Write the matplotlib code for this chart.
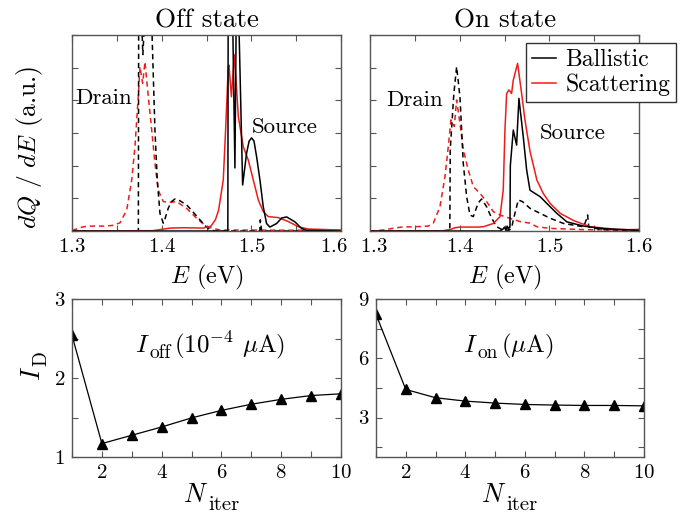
import matplotlib
matplotlib.use("Agg")
import matplotlib.pyplot as plt
from matplotlib.ticker import MultipleLocator
from matplotlib.transforms import ScaledTranslation

plt.rcParams['font.family'] = ['cmr10', 'DejaVu Serif']
plt.rcParams['mathtext.fontset'] = 'cm'
plt.rcParams['axes.formatter.use_mathtext'] = True
plt.rcParams['axes.unicode_minus'] = False

# ---------------- data: top panels (dQ/dE, a.u.) ----------------
# Off state
off_drain_ball_E = [1.300, 1.3740, 1.3745, 1.3790, 1.3860, 1.3925, 1.3951, 1.3981, 1.4018, 1.4040,
                    1.4074, 1.4110, 1.4148, 1.4200, 1.4279, 1.4350, 1.4427, 1.4490, 1.4538, 1.4600,
                    1.5095, 1.5100, 1.5115, 1.600]
off_drain_ball_v = [0.0, 0.0, 9.0, 5.4, 9.0, 3.09, 1.56, 0.54, 0.24, 0.40,
                    0.70, 0.90, 0.98, 0.93, 0.80, 0.58, 0.34, 0.15, 0.04, 0.0,
                    0.0, 0.34, 0.0, 0.0]

off_drain_scat_E = [1.300, 1.305, 1.3126, 1.320, 1.335, 1.345, 1.3535, 1.361, 1.3666, 1.3702,
                    1.3739, 1.3758, 1.3788, 1.3814, 1.3851, 1.3889, 1.3925, 1.3962, 1.4018, 1.4093,
                    1.4167, 1.4279, 1.4390, 1.4502, 1.4650, 1.600]
off_drain_scat_v = [0.02, 0.06, 0.13, 0.15, 0.15, 0.17, 0.25, 0.64, 1.56, 2.58,
                    4.11, 5.03, 4.52, 5.18, 4.11, 3.09, 2.07, 1.25, 0.90, 0.88,
                    0.90, 0.69, 0.39, 0.13, 0.03, 0.02]

off_src_ball_E = [1.300, 1.4738, 1.4743, 1.4760, 1.4778, 1.4817, 1.4839, 1.4903, 1.4947, 1.4975,
                  1.5003, 1.5030, 1.5059, 1.5096, 1.5133, 1.5170, 1.5207, 1.5282, 1.5340, 1.5394,
                  1.5486, 1.5560, 1.5617, 1.600]
off_src_ball_v = [0.0, 0.0, 9.0, 7.0, 9.0, 1.93, 9.0, 1.41, 2.38, 2.75,
                  2.85, 2.75, 2.27, 1.56, 0.74, 0.23, 0.12, 0.23, 0.40, 0.43,
                  0.28, 0.08, 0.02, 0.0]

off_src_scat_E = [1.300, 1.390, 1.400, 1.410, 1.424, 1.4464, 1.455, 1.460, 1.4635, 1.4687,
                  1.4713, 1.4743, 1.4750, 1.4778, 1.4810, 1.4830, 1.4855, 1.4910, 1.4966, 1.5022,
                  1.5078, 1.5134, 1.5190, 1.5301, 1.5412, 1.5524, 1.5635, 1.600]
off_src_scat_v = [0.0, 0.01, 0.05, 0.09, 0.10, 0.09, 0.15, 0.35, 0.64, 1.56,
                  3.09, 5.03, 5.08, 4.11, 5.40, 4.60, 3.50, 2.58, 2.17, 1.56,
                  0.95, 0.59, 0.44, 0.41, 0.29, 0.13, 0.06, 0.03]

# On state
on_drain_ball_E = [1.300, 1.3890, 1.3895, 1.3935, 1.3966, 1.4003, 1.4022, 1.4040, 1.4078, 1.4115,
                   1.4152, 1.4207, 1.4245, 1.4301, 1.4357, 1.4412, 1.4468, 1.4550, 1.4580, 1.4598,
                   1.4654, 1.4700, 1.4787, 1.4898, 1.5010, 1.5159, 1.5382, 1.5420, 1.5427, 1.5440,
                   1.5600, 1.600]
on_drain_ball_v = [0.0, 0.0, 2.5, 4.2, 5.03, 4.11, 3.09, 2.07, 1.05, 0.49,
                   0.44, 0.86, 0.98, 0.74, 0.39, 0.13, 0.05, 0.02, 0.10, 0.34,
                   0.95, 0.90, 0.69, 0.54, 0.39, 0.23, 0.13, 0.40, 0.49, 0.12,
                   0.04, 0.01]

on_drain_scat_E = [1.300, 1.315, 1.325, 1.335, 1.350, 1.365, 1.3706, 1.3780, 1.3836, 1.3873,
                   1.3903, 1.3940, 1.3966, 1.4003, 1.4040, 1.4096, 1.4152, 1.4226, 1.4301, 1.4375,
                   1.4450, 1.4560, 1.4672, 1.4784, 1.4861, 1.5010, 1.5400, 1.600]
on_drain_scat_v = [0.0, 0.03, 0.08, 0.12, 0.13, 0.15, 0.24, 0.74, 1.66, 2.58,
                   3.40, 3.20, 4.01, 3.30, 2.50, 1.87, 1.36, 1.15, 0.90, 0.59,
                   0.49, 0.39, 0.29, 0.24, 0.13, 0.08, 0.04, 0.03]

on_src_ball_E = [1.300, 1.445, 1.448, 1.450, 1.4515, 1.453, 1.4545, 1.4556, 1.4561, 1.4565,
                 1.4598, 1.4635, 1.4661, 1.4709, 1.4747, 1.4784, 1.4840, 1.4898, 1.5010, 1.5084,
                 1.5196, 1.5382, 1.5605, 1.600]
on_src_ball_v = [0.0, 0.0, 0.05, 0.12, 0.03, 0.15, 0.05, 0.12, 0.12, 2.0,
                 3.09, 2.63, 4.06, 2.89, 1.87, 1.25, 1.15, 1.05, 0.74, 0.54,
                 0.28, 0.15, 0.07, 0.02]

on_src_scat_E = [1.300, 1.380, 1.390, 1.395, 1.400, 1.420, 1.4263, 1.4375, 1.4450, 1.4486,
                 1.4505, 1.4524, 1.4550, 1.4579, 1.4598, 1.4646, 1.4691, 1.4728, 1.4784, 1.4861,
                 1.4932, 1.5010, 1.5122, 1.5270, 1.5457, 1.5754, 1.5900, 1.600]
on_src_scat_v = [0.0, 0.0, 0.05, 0.10, 0.12, 0.12, 0.13, 0.23, 0.44, 1.25,
                 3.09, 4.21, 4.32, 4.21, 4.62, 5.13, 4.21, 3.40, 2.45, 1.56,
                 1.15, 0.84, 0.54, 0.32, 0.13, 0.05, 0.04, 0.05]

# ---------------- data: bottom panels ----------------
n_iter = [1, 2, 3, 4, 5, 6, 7, 8, 9, 10]
i_off = [2.54, 1.17, 1.275, 1.38, 1.495, 1.59, 1.668, 1.73, 1.778, 1.80]
i_on = [8.22, 4.42, 4.00, 3.83, 3.73, 3.66, 3.63, 3.61, 3.61, 3.59]

# ---------------- figure ----------------
W, H = 694, 521
fig = plt.figure(figsize=(W / 100, H / 100), dpi=100)
renderer = fig.canvas.get_renderer()

def rect(l, t, r, b):
    return [l / W, 1 - b / H, (r - l) / W, (b - t) / H]

ax_off = fig.add_axes(rect(72, 35, 341, 231))
ax_on = fig.add_axes(rect(370, 35, 639, 231))
ax_ioff = fig.add_axes(rect(72, 299, 341, 457))
ax_ion = fig.add_axes(rect(376, 299, 644, 457))

RED = '#ee1c1c'
LW = 1.1
DASH = (0, (3.5, 2.5))
SPINE = '#555555'
TICKFS = 15


def style(ax):
    for s in ax.spines.values():
        s.set_color(SPINE)
        s.set_linewidth(1.0)
    ax.tick_params(which='both', direction='in', top=True, right=True,
                   length=4, width=0.8, color=SPINE, labelsize=TICKFS, pad=5)


def seq(xc, yb, parts, rot=0):
    """Place a sequence of text pieces (string, fontsize, drop_px, gap_px)
    centred on xc (pixels), baseline at yb (pixels from top)."""
    items = []
    for s, fs, drop, gap in parts:
        t = fig.text(0, 0, s, fontsize=fs, rotation=rot, rotation_mode='anchor',
                     ha='left', va='baseline')
        bb = t.get_window_extent(renderer)
        w = bb.width if rot == 0 else bb.height
        items.append((t, w, drop, gap))
    total = sum(w + g for _, w, _, g in items)
    pos = -total / 2
    for t, w, drop, gap in items:
        pos += gap
        if rot == 0:
            t.set_position(((xc + pos) / W, 1 - (yb + drop) / H))
        else:
            t.set_position(((xc + drop) / W, 1 - (yb - pos) / H))
        pos += w


for ax, data in [
    (ax_off, (off_drain_ball_E, off_drain_ball_v, off_drain_scat_E, off_drain_scat_v,
              off_src_ball_E, off_src_ball_v, off_src_scat_E, off_src_scat_v)),
    (ax_on, (on_drain_ball_E, on_drain_ball_v, on_drain_scat_E, on_drain_scat_v,
             on_src_ball_E, on_src_ball_v, on_src_scat_E, on_src_scat_v))]:
    dbE, dbv, dsE, dsv, sbE, sbv, ssE, ssv = data
    ax.plot(dsE, dsv, color=RED, lw=LW, linestyle=DASH)
    ax.plot(dbE, dbv, color='black', lw=LW, linestyle=DASH)
    ax.plot(ssE, ssv, color=RED, lw=LW, label='Scattering')
    ax.plot(sbE, sbv, color='black', lw=LW, label='Ballistic')
    ax.set_xlim(1.3, 1.6)
    ax.set_ylim(0, 6)
    ax.set_xticks([1.3, 1.4, 1.5, 1.6])
    ax.xaxis.set_minor_locator(MultipleLocator(0.05))
    ax.yaxis.set_major_locator(MultipleLocator(1))
    ax.set_yticklabels([])
    style(ax)

# nudge the two neighbouring tick labels apart, as in the reference
lab = ax_off.get_xticklabels()[-1]
lab.set_transform(lab.get_transform() + ScaledTranslation(-7 / 100, 0, fig.dpi_scale_trans))
lab = ax_on.get_xticklabels()[0]
lab.set_transform(lab.get_transform() + ScaledTranslation(4 / 100, 0, fig.dpi_scale_trans))

# titles and axis labels (top)
fig.text(207 / W, 1 - 27 / H, 'Off state', ha='center', va='baseline', fontsize=19.5)
fig.text(505 / W, 1 - 27 / H, 'On state', ha='center', va='baseline', fontsize=19.5)
fig.text(207 / W, 1 - 283 / H, r'$E$ (eV)', ha='center', va='baseline', fontsize=17.5)
fig.text(505 / W, 1 - 283 / H, r'$E$ (eV)', ha='center', va='baseline', fontsize=17.5)

fig.text(75 / W, 1 - 98 / H, 'Drain', ha='left', va='center', fontsize=16.5)
fig.text(252 / W, 1 - 127 / H, 'Source', ha='left', va='center', fontsize=16.5)
fig.text(386 / W, 1 - 100 / H, 'Drain', ha='left', va='center', fontsize=16.5)
fig.text(540 / W, 1 - 133 / H, 'Source', ha='left', va='center', fontsize=16.5)

h, l = ax_on.get_legend_handles_labels()
leg = ax_on.legend([h[1], h[0]], [l[1], l[0]], loc='upper right',
                   bbox_to_anchor=(676 / W, 1 - 43 / H), bbox_transform=fig.transFigure,
                   fontsize=17, frameon=True, fancybox=False, framealpha=1,
                   edgecolor='#333333', borderaxespad=0, handlelength=1.0,
                   handletextpad=0.4, labelspacing=0.1, borderpad=0.25)
leg.get_frame().set_linewidth(1.0)

fig.text(30 / W, 1 - 147 / H, r'$dQ\ /\ dE$ (a.u.)', rotation=90, ha='center', va='center',
         fontsize=18.5)

# bottom panels
for ax, y, ylim, ymaj, ymin in [
    (ax_ioff, i_off, (1, 3), 1, 0.5),
    (ax_ion, i_on, (1, 9), 3, 1.5)]:
    ax.plot(n_iter, y, color='black', lw=0.9, marker='^', markersize=7)
    ax.set_xlim(1, 10)
    ax.set_ylim(*ylim)
    ax.set_xticks([2, 4, 6, 8, 10])
    ax.xaxis.set_minor_locator(MultipleLocator(1))
    ax.yaxis.set_major_locator(MultipleLocator(ymaj))
    ax.yaxis.set_minor_locator(MultipleLocator(ymin))
    style(ax)

# N_iter labels
seq(211, 502, [(r'$N$', 19, 0, 0), ('iter', 15, 8, 0)])
seq(509, 502, [(r'$N$', 19, 0, 0), ('iter', 15, 8, 0)])
# current annotations
seq(210, 352, [(r'$I$', 18.5, 0, 0), ('off', 14, 6, 0),
               (r'(10$^{-4}$ $\mu$A)', 18, 0, 3)])
seq(508, 352, [(r'$I$', 18.5, 0, 0), ('on', 14, 6, 0),
               (r'($\mu$A)', 18, 0, 3)])
# I_D rotated
seq(40, 366, [(r'$I$', 19, 0, 0), ('D', 14, 6, 0)], rot=90)

fig.savefig('out.png', dpi=100)
